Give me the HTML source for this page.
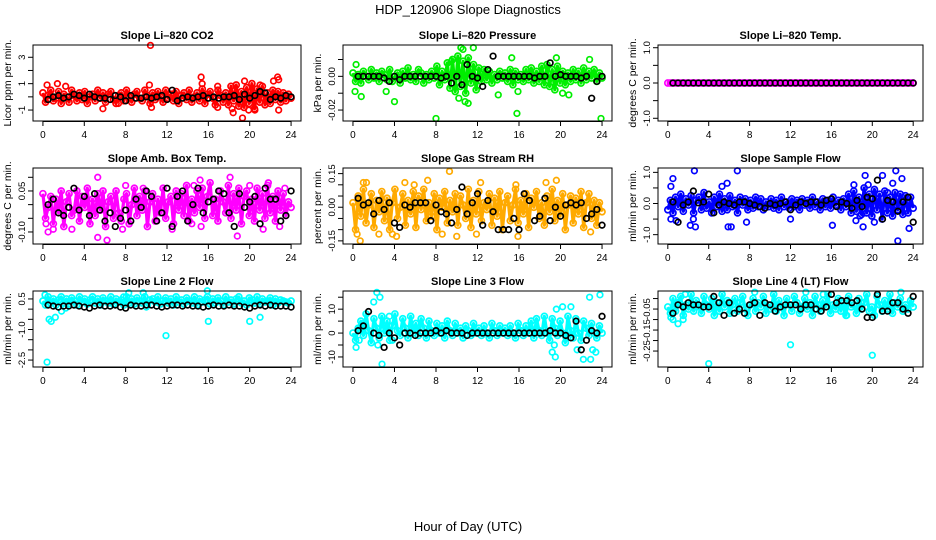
<!DOCTYPE html>
<html><head><meta charset="utf-8"><style>
html,body{margin:0;padding:0;background:#fff}
svg{display:block;font-family:"Liberation Sans",sans-serif}
</style></head><body>
<svg id="chart" width="936" height="540" viewBox="0 0 936 540">
<text x="468" y="14" text-anchor="middle" font-size="13">HDP_120906  Slope Diagnostics</text>
<text x="468" y="531" text-anchor="middle" font-size="13">Hour of Day (UTC)</text>
</svg>
<script>
const xTicks = [0,4,8,12,16,20,24];
const titles = ["Slope Li\u2013820 CO2","Slope Li\u2013820 Pressure","Slope Li\u2013820 Temp.","Slope Amb. Box Temp.","Slope Gas Stream RH","Slope Sample Flow","Slope Line 2 Flow","Slope Line 3 Flow","Slope Line 4 (LT) Flow"];
const yTitles = ["Licor ppm per min.","kPa per min.","degrees C per min.","degrees C per min.","percent per min.","ml/min per min.","ml/min per min.","ml/min per min.","ml/min per min."];
const yTicks = [[-1,0,1,2,3],[-0.02,-0.01,0,0.01],[-1,-0.5,0,0.5,1],[-0.1,-0.05,0,0.05,0.1],[-0.15,-0.1,-0.05,0,0.05,0.1,0.15],[-1,-0.5,0,0.5,1],[-2.5,-2,-1.5,-1,-0.5,0,0.5],[-10,-5,0,5,10,15],[-0.25,-0.2,-0.15,-0.1,-0.05,0]];
const yTickLabels = [["-1","","1","","3"],["-0.02","","0.00",""],["-1.0","","0.0","","1.0"],["-0.10","","","0.05",""],["-0.15","","","0.00","","","0.15"],["-1.0","","0.0","","1.0"],["-2.5","","","-1.0","","","0.5"],["-10","","0","","10",""],["-0.25","","-0.15","","-0.05",""]];
const yLims = [[-1.83,3.93],[-0.0265,0.0186],[-1.077,1.077],[-0.144,0.134],[-0.164,0.175],[-1.3,1.14],[-2.84,0.89],[-14.2,17.6],[-0.326,0.036]];
const colors = ["#ff0000","#00ee00","#ff00ff","#ff00ff","#ffaa00","#0000ff","#00ffff","#00ffff","#00ffff"];

const p1Color=[.3,-.4,.1,.5,-.3,-.1,.4,-.5,.2,0,-.4,.5,.1,-.3,.3,-.2,.4,-.5,0,.2,-.3,.5,-.1,.3,-.4,.2,.4,-.2,-.5,.1,.3,-.3,.5,0,-.4,.2,.4,-.1,-.3,.5,.1,-.5,.3,-.2,.4,0,-.4,.5,-.1,.2,-.3,.4,-.5,.1,.3,-.2,.5,-.4,0,.3,-.3,.6,-.5,.2,.4,-.1,-.6,.5,.1,-.4,.3,-.6,.8,-.3,.9,-.7,.4,-.8,.7,-.5,1,-.9,.6,-.4,.8,-.6,.3,-.5,.5,-.2,.4,-.4,.3,-.3,.2,-.1];
const p1OutX=[0.4,1.4,2.2,10.4,10.3,10.5,15.3,15.4,16.9,16.9,18.3,18.4,19.3,19.5,19.9,20.5,21.0,22.3,22.7,22.8,22.8,5.8,7.3];
const p1OutY=[0.9,1.0,0.8,3.9,0.9,-0.8,1.5,1.0,0.8,-0.8,-0.9,-1.2,-1.6,1.2,-1.0,-1.0,0.9,1.2,1.5,1.3,-1.0,-0.9,-0.5];
const p1Black=[-.2,0,.1,-.1,0,.2,.1,-.1,.2,0,-.1,-.1,-.2,.1,0,-.3,.1,-.1,-.1,0,-.1,0,.1,-.2,.5,-.3,-.1,0,-.1,0,.1,-.1,0,-.1,0,0,.1,-.2,.2,-.1,.1,.4,.3,-.2,0,-.1,.1,0];

const p2Color=[.002,-.003,.001,-.004,.003,0,-.002,.004,-.001,.002,-.003,.003,.001,-.002,.004,-.003,0,.002,-.004,.003,-.001,.005,-.002,.001,-.003,.004,.002,-.004,.001,-.002,.003,-.001,.006,-.005,.003,-.002,.008,-.007,.01,-.009,.012,-.006,.009,-.01,.011,-.004,.007,-.008,.005,-.003,.004,-.002,.003,-.004,.001,-.002,.003,-.001,.002,-.003,.004,-.005,.003,-.002,.001,-.003,.004,-.002,.005,-.004,.003,-.003,.006,-.005,.007,-.006,.004,-.008,.006,-.004,.003,-.005,.002,-.003,.004,-.002,.003,-.004,.005,-.002,.003,-.001,.004,-.003,.002,-.001];
const p2OutX=[0.2,0.3,0.8,3.2,4.0,8.0,9.5,10.4,10.6,11.6,10.2,10.8,11.1,14.0,15.8,15.9,19.6,20.2,20.8,22.8,23.9,15.3];
const p2OutY=[-.009,.007,-.012,-.009,-.015,-.025,.009,.017,.016,.017,-.013,-.015,-.016,-.011,-.022,-.009,.011,-.01,-.011,.01,-.025,.011];
const p2Black=[0,0,0,0,0,-.001,-.003,0,-.002,0,0,0,0,0,0,0,-.001,0,-.004,0,-.005,.007,0,-.001,-.006,.004,.012,0,0,0,0,0,0,0,-.001,0,0,.008,0,.001,0,0,0,-.001,0,-.013,-.003,0];

const p3Color=[0,0,0,0,0,0,0,0,0,0,0,0,0,0,0,0,0,0,0,0,0,0,0,0,0,0,0,0,0,0,0,0,0,0,0,0,0,0,0,0,0,0,0,0,0,0,0,0,0,0,0,0,0,0,0,0,0,0,0,0,0,0,0,0,0,0,0,0,0,0,0,0,0,0,0,0,0,0,0,0,0,0,0,0,0,0,0,0,0,0,0,0,0,0,0,0];
const p3OutX=[];
const p3OutY=[];
const p3Black=[0,0,0,0,0,0,0,0,0,0,0,0,0,0,0,0,0,0,0,0,0,0,0,0,0,0,0,0,0,0,0,0,0,0,0,0,0,0,0,0,0,0,0,0,0,0,0,0];

const p4Color=[.04,-.05,-.01,.03,-.07,.02,-.03,.05,-.08,.01,.04,-.04,-.02,.05,-.06,.03,-.01,.06,-.07,.02,-.04,.04,-.02,.05,-.08,.01,.03,-.05,.05,-.03,-.06,.02,.04,-.07,0,.06,-.04,.03,-.02,.05,-.08,.01,.04,-.06,.02,-.03,.06,-.05,.01,.03,-.07,.05,-.02,.04,-.04,.07,-.06,.02,-.03,.05,-.01,.06,-.05,.03,.08,-.04,.02,-.06,.05,.01,-.03,.07,-.05,.04,-.02,.06,-.07,.03,.05,-.04,.02,-.06,.06,-.02,.04,-.05,.07,-.03,.03,-.06,.05,-.02,.04,-.04,.01,-.01];
const p4OutX=[0.5,0.3,1.0,2.8,5.3,5.3,6.2,7.7,8.0,9.7,12.5,14.4,14.6,15.2,15.3,18.1,18.8,20.0,21.8,21.3,22.9,23.4];
const p4OutY=[-.1,-.07,-.09,-.09,.1,-.12,-.13,-.09,.07,.06,-.09,-.07,.07,.09,-.08,.1,-.115,.07,.08,-.09,-.08,.06];
const p4Black=[0,.02,-.03,-.04,-.01,.06,-.02,.03,-.04,.04,-.02,-.06,-.03,-.08,-.05,-.02,-.06,.02,-.01,.05,.03,-.06,-.03,.06,-.08,.03,.05,-.06,0,.06,-.03,.01,.02,.05,.04,-.03,-.08,.04,-.01,.01,.03,-.07,.06,.02,.02,-.06,-.04,.05];

const p5Color=[.02,-.1,.05,-.04,.08,-.07,.01,.06,-.09,.03,-.02,.07,-.06,.04,-.1,.02,.08,-.05,0,.06,-.08,.03,-.03,.07,-.09,.05,-.01,.08,-.06,.02,-.04,.06,-.1,.04,0,.07,-.07,.03,-.02,.06,-.08,.05,.01,-.05,.08,-.09,.03,-.03,.07,-.06,.02,-.01,.06,-.08,.04,-.04,.07,-.1,.02,.05,-.06,.01,.08,-.07,.03,-.03,.06,-.09,.04,0,.07,-.05,.02,-.08,.05,-.02,.08,-.06,.03,-.04,.06,-.1,.01,.05,-.07,.04,-.03,.07,-.09,.02,.06,-.05,.03,-.08,.02,-.02];
const p5OutX=[0.4,0.7,1.0,1.3,2.5,3.8,4.2,5.0,5.9,7.2,8.6,9.3,10.0,11.9,12.3,15.7,15.9,18.6,19.6,22.9];
const p5OutY=[-.12,-.15,.11,.11,-.12,-.12,-.13,.11,.1,.12,-.12,.16,-.13,-.12,.11,.1,-.13,.11,.12,-.11];
const p5Black=[.04,.01,.02,-.03,.03,-.01,.02,-.07,-.09,.01,0,.02,.02,.02,-.06,.01,-.02,-.03,-.07,-.01,.09,-.03,.02,.06,-.08,.03,-.02,-.1,-.1,-.1,-.05,-.1,.06,.03,-.06,-.04,.04,-.06,0,-.04,.01,.02,.01,.02,-.05,-.03,-.01,-.08];

const p6Color=[-.2,.1,-.3,.2,-.1,.3,-.25,.15,-.05,.25,-.3,.1,.2,-.2,.35,-.15,.05,-.3,.2,-.1,.3,-.25,.15,-.2,.25,-.1,.1,-.3,.2,-.05,.15,-.2,.1,-.15,.2,-.1,.15,-.2,.05,-.1,.15,-.15,.1,-.2,.2,-.1,.05,-.15,.15,-.1,.1,-.2,.15,-.05,.1,-.15,.2,-.1,.05,-.2,.15,-.1,.1,-.15,.2,-.05,.1,-.2,.15,-.1,.3,-.3,.4,-.25,.2,-.35,.5,-.3,.3,-.4,.45,-.2,.3,-.5,.4,-.3,.2,-.4,.35,-.2,.3,-.35,.25,-.3,.2,-.15];
const p6OutX=[0.3,0.5,0.3,0.8,2.2,2.5,2.6,2.7,5.3,5.8,5.9,6.2,6.8,7.7,12.0,16.1,18.2,18.4,19.1,19.3,19.6,20.2,21.0,22.0,22.3,22.5,22.9,23.6,18.8,21.5];
const p6OutY=[.55,.8,-.5,-.55,-.7,-.5,1.05,-.75,.55,.65,-.75,-.75,1.05,-.6,-.5,-.7,.6,-.55,-.75,.9,.6,-.6,.9,.65,1.05,-1.2,.8,-.8,-.4,.35];
const p6Black=[.05,-.6,-.05,.05,.4,.02,.05,.3,-.3,-.05,.05,0,-.05,.05,.05,0,-.05,-.1,-.15,0,-.05,0,.05,-.2,-.05,.05,0,.05,.05,-.05,.1,.15,-.1,.05,0,-.15,.1,-.1,.2,.15,.75,-.5,.1,.05,-.25,.05,.2,-.6];

const p7Color=[.4,.2,.6,.3,.5,.2,.45,.6,.3,.5,.25,.55,.4,.2,.6,.35,.5,.25,.45,.6,.3,.5,.2,.55,.4,.3,.6,.25,.5,.35,.45,.2,.6,.3,.5,.25,.55,.4,.3,.6,.2,.45,.5,.35,.6,.25,.4,.55,.3,.5,.2,.6,.35,.45,.25,.55,.4,.3,.6,.2,.5,.35,.45,.6,.25,.5,.3,.55,.4,.2,.6,.35,.45,.25,.5,.6,.3,.4,.2,.55,.45,.3,.6,.25,.5,.35,.4,.55,.2,.5,.3,.45,.4,.35,.3,.4];
const p7OutX=[0.2,0.4,0.6,0.8,1.2,1.8,7.8,8.3,9.7,11.9,15.9,16.0,20.0,21.0,2.2,10.0];
const p7OutY=[.7,-2.6,-.5,-.6,-.4,-.1,.6,.8,.8,-1.3,.9,-.6,-.6,-.4,.05,.1];
const p7Black=[.2,.15,.1,.15,.15,.2,.15,.1,.05,.15,.2,.15,.15,.2,.1,.05,.2,.15,.15,.2,.2,.15,.1,.15,.2,.2,.15,.2,.15,.15,.1,.15,.2,.15,.15,.2,.15,.15,.1,.05,.15,.2,.15,.2,.15,.15,.15,.1];

const p8Color=[0,-3,2,5,-1,8,1,-4,6,2,-2,7,0,5,-3,3,8,1,-1,6,2,-2,7,0,4,-1,6,2,-2,5,1,-1,4,0,3,-2,5,1,-1,4,0,2,-2,3,1,-1,4,0,2,-1,3,0,-2,4,1,-1,3,0,2,-1,3,0,-2,4,1,-1,3,0,5,-2,6,1,-1,7,0,-3,6,2,-1,5,0,-4,7,1,-2,6,0,-3,5,2,-1,4,0,-2,3,0];
const p8OutX=[0.3,0.6,1.0,2.0,2.3,2.6,2.4,2.8,3.5,3.8,19.2,19.4,19.6,20.2,21.0,21.6,22.2,22.8,22.9,23.8,23.1,23.4,19.5];
const p8OutY=[-6,-3,4,13,17,15,-5,-13,7,-3,-8,-5,10,11,11,-7,-11,15,-11,16,-7,-8,-10];
const p8Black=[1,3,9,0,-1,-6,0,-2,-5,0,0,-1,0,0,0,1,0,1,0,0,0,-1,0,0,0,0,0,0,0,0,0,0,0,0,0,0,0,1,0,0,-1,-2,5,-7,-3,1,0,7];

const p9Color=[-.04,-.07,0,-.06,-.02,.01,-.08,-.03,-.05,.02,-.06,-.01,-.04,-.07,.01,-.03,-.05,0,-.08,-.02,-.06,.02,-.04,-.01,-.07,-.03,0,-.06,-.02,.01,-.05,-.08,-.03,0,-.06,-.02,-.04,.01,-.07,-.03,-.05,.02,-.06,-.01,-.04,-.08,0,-.03,-.06,.01,-.02,-.07,-.04,0,-.05,-.02,-.08,.01,-.03,-.06,-.01,-.04,.02,-.07,-.03,-.05,0,-.06,-.02,-.08,.01,-.04,-.03,-.07,0,-.05,-.02,.02,-.06,-.04,-.08,.01,-.03,-.06,-.01,-.05,.02,-.07,-.02,-.04,0,-.06,-.03,-.05,-.01,-.04];
const p9OutX=[0.5,0.3,1.0,1.5,1.7,4.0,8.5,12.0,13.5,15.2,20.0,22.8,17.5];
const p9OutY=[-.1,-.09,-.12,-.1,.02,-.31,.03,-.22,.03,.02,-.27,.03,-.08];
const p9Black=[-.07,-.03,-.04,-.02,-.03,-.03,-.04,-.04,.01,-.02,-.08,-.02,-.07,-.05,-.07,-.03,-.02,-.08,-.02,-.03,-.06,-.04,-.03,-.03,-.03,-.05,-.03,-.03,-.05,-.06,-.04,.02,-.02,-.01,-.01,-.02,-.01,-.05,-.09,-.09,.02,-.06,-.06,-.02,-.02,-.05,-.07,.01];

const colorSeries=[p1Color,p2Color,p3Color,p4Color,p5Color,p6Color,p7Color,p8Color,p9Color];
const outX=[p1OutX,p2OutX,p3OutX,p4OutX,p5OutX,p6OutX,p7OutX,p8OutX,p9OutX];
const outY=[p1OutY,p2OutY,p3OutY,p4OutY,p5OutY,p6OutY,p7OutY,p8OutY,p9OutY];
const blackSeries=[p1Black,p2Black,p3Black,p4Black,p5Black,p6Black,p7Black,p8Black,p9Black];

const NS="http://www.w3.org/2000/svg";
const svg=document.getElementById('chart');
const colX=[33,343,658], colW=[268,269,265], rowY=[45,168,291], rowH=76;
function mk(tag,attrs,parent){const e=document.createElementNS(NS,tag);for(const k in attrs)e.setAttribute(k,attrs[k]);(parent||svg).appendChild(e);return e;}

for(let p=0;p<9;p++){
  const c=p%3,r=Math.floor(p/3);
  const L=colX[c],W=colW[c],T=rowY[r],H=rowH;
  const g=mk('g',{});
  
  
  const xs=v=>L+(v+0.96)/25.92*W;
  const ys=v=>T+H-(v-yLims[p][0])/(yLims[p][1]-yLims[p][0])*H;
  const t=mk('text',{x:L+W/2,y:T-6,'text-anchor':'middle','font-size':11,'font-weight':'bold'},g);
  t.textContent=titles[p];
  
  
  const pts=mk('g',{fill:'none','stroke-width':1.7},g);
  
  
  const cs=colorSeries[p];
  const band=mk('polyline',{points:cs.map((v,i)=>xs(i*24/(cs.length-1))+','+ys(v)).join(' '),fill:'none',stroke:colors[p],'stroke-width':3.2,'stroke-linejoin':'round'},pts);
  
  
  cs.forEach((v,i)=>{
    const e=mk('circle',{cx:xs(i*24/(cs.length-1)),cy:ys(v),r:3,stroke:colors[p]},pts);
    
    
  });
  outX[p].forEach((x,i)=>{
    const e=mk('circle',{cx:xs(x),cy:ys(outY[p][i]),r:2.8,stroke:colors[p]},pts);
    
    
  });
  const bs=blackSeries[p];
  bs.forEach((v,i)=>{
    const e=mk('circle',{cx:xs(0.5+i*23.5/(bs.length-1)),cy:ys(v),r:2.8,stroke:'#000'},pts);
    
    
  });
  const box=mk('rect',{x:L,y:T,width:W,height:H,fill:'none',stroke:'#000','stroke-width':1},g);
  
  
  xTicks.forEach(v=>{
    mk('line',{x1:xs(v),x2:xs(v),y1:T+H,y2:T+H+5,stroke:'#000'},g);
    const tl=mk('text',{x:xs(v),y:T+H+17,'text-anchor':'middle','font-size':10},g);
    tl.textContent=v;
    
    
  });
  mk('line',{x1:xs(0),x2:xs(24),y1:T+H+0.5,y2:T+H+0.5,stroke:'#000'},g);
  yTicks[p].forEach((v,i)=>{
    mk('line',{x1:L-5,x2:L,y1:ys(v),y2:ys(v),stroke:'#000'},g);
    const lab=yTickLabels[p][i];
    if(lab){
      const tl=mk('text',{x:0,y:0,'text-anchor':'middle','font-size':9.5,transform:`translate(${L-8},${ys(v)}) rotate(-90)`},g);
      tl.textContent=lab;
      
      
    }
  });
  const yt=mk('text',{x:0,y:0,'text-anchor':'middle','font-size':10.5,transform:`translate(${L-22},${T+H/2}) rotate(-90)`},g);
  yt.textContent=yTitles[p];
  
  
}
</script>
</body></html>
